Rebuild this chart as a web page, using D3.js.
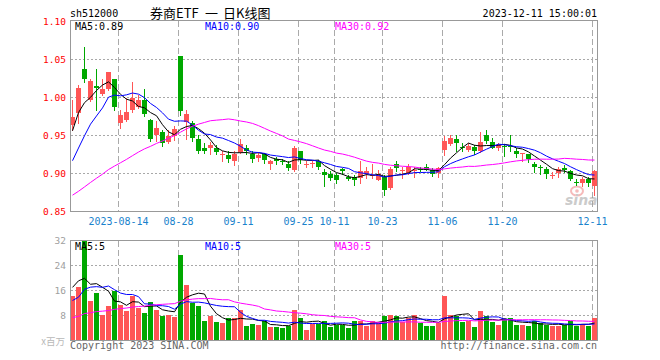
<!DOCTYPE html>
<html><head><meta charset="utf-8">
<script src="https://cdn.jsdelivr.net/npm/d3@7/dist/d3.min.js"></script>
<style>body{margin:0;background:#fff}svg{display:block}</style>
</head><body><svg id="c" width="660" height="360"></svg>
<script>
// ---------- data ----------
const tickIdx = [8, 18, 28, 38, 44, 52, 62, 72, 87];
const tickLabels = ["2023-08-14", "08-28", "09-11", "09-25", "10-11", "10-23", "11-06", "11-20", "12-11"];
const priceTicks = [1.10, 1.05, 1.00, 0.95, 0.90, 0.85];
const volTicks = [32, 24, 16, 8];
const maLabels = ["MA5:0.89", "MA10:0.90", "MA30:0.92"];
const volMaLabels = ["MA5:5", "MA10:5", "MA30:5"];
const titleParts = ["券商ETF", "一", "日K线图"];

const open = [0.964,0.979,1.037,0.997,1.015,1.005,1.011,1.024,0.966,0.971,0.983,0.988,0.997,0.971,0.951,0.954,0.941,0.950,1.054,0.968,
0.967,0.946,0.934,0.933,0.934,0.924,0.924,0.916,0.928,0.934,0.926,0.920,0.925,0.912,0.919,0.916,0.912,0.905,0.929,0.912,
0.912,0.916,0.902,0.899,0.898,0.906,0.896,0.895,0.894,0.899,0.897,0.892,0.896,0.881,0.913,0.904,0.901,0.904,0.906,0.909,
0.905,0.901,0.931,0.939,0.946,0.935,0.931,0.935,0.930,0.951,0.942,0.933,0.936,0.936,0.929,0.926,0.925,0.912,0.909,0.906,
0.897,0.901,0.907,0.903,0.889,0.887,0.893,0.883];
const high = [0.997,1.016,1.067,1.024,1.037,1.024,1.034,1.024,0.984,0.999,1.021,1.003,1.011,0.972,0.969,0.957,0.957,0.962,1.054,0.984,
0.969,0.951,0.940,0.941,0.937,0.929,0.929,0.929,0.945,0.938,0.929,0.927,0.927,0.918,0.922,0.919,0.916,0.936,0.930,0.916,
0.916,0.918,0.906,0.903,0.901,0.907,0.898,0.898,0.916,0.909,0.912,0.905,0.898,0.908,0.916,0.909,0.912,0.909,0.909,0.912,
0.907,0.909,0.949,0.951,0.951,0.940,0.940,0.938,0.955,0.957,0.947,0.940,0.939,0.951,0.933,0.927,0.926,0.915,0.911,0.908,
0.902,0.908,0.911,0.905,0.893,0.895,0.895,0.905];
const low = [0.957,0.966,1.021,0.995,0.984,1.003,1.010,0.984,0.960,0.969,0.981,0.986,0.976,0.943,0.943,0.936,0.940,0.944,0.977,0.946,
0.943,0.927,0.927,0.925,0.926,0.917,0.915,0.911,0.927,0.926,0.915,0.916,0.914,0.906,0.912,0.912,0.905,0.903,0.914,0.909,
0.909,0.906,0.884,0.892,0.888,0.899,0.891,0.885,0.888,0.894,0.894,0.891,0.872,0.879,0.903,0.894,0.899,0.895,0.903,0.904,
0.897,0.895,0.924,0.937,0.930,0.929,0.929,0.925,0.928,0.940,0.933,0.931,0.923,0.930,0.922,0.916,0.915,0.902,0.900,0.894,
0.894,0.896,0.902,0.891,0.885,0.883,0.884,0.872];
const close = [0.975,1.012,1.024,1.022,1.013,1.011,1.033,0.987,0.977,0.981,0.999,0.997,0.978,0.946,0.960,0.940,0.950,0.959,0.982,0.978,
0.947,0.929,0.929,0.938,0.928,0.925,0.919,0.926,0.939,0.929,0.919,0.924,0.918,0.916,0.917,0.915,0.907,0.934,0.918,0.913,
0.914,0.909,0.898,0.894,0.891,0.903,0.893,0.891,0.903,0.903,0.898,0.899,0.878,0.906,0.907,0.905,0.908,0.905,0.904,0.905,
0.899,0.907,0.943,0.947,0.940,0.934,0.936,0.929,0.942,0.943,0.934,0.938,0.935,0.935,0.926,0.927,0.919,0.908,0.908,0.899,
0.898,0.906,0.905,0.893,0.888,0.893,0.887,0.903];
const volume = [14.2,17.1,31.8,12.8,15.1,8.3,10.9,16.0,11.5,9.6,14.1,10.3,8.7,12.3,9.9,8.0,8.3,7.5,27.5,17.9,
11.9,10.9,6.2,8.0,5.9,5.5,7.1,7.1,9.9,4.8,5.3,5.0,6.2,4.3,4.3,4.1,4.8,9.9,7.1,3.4,
5.3,5.3,6.2,4.3,5.0,5.0,3.9,6.4,6.2,4.8,6.4,5.5,8.0,8.3,8.0,5.9,7.3,8.3,5.5,4.8,
4.8,5.5,14.2,8.3,8.0,5.9,6.4,4.3,9.4,7.7,5.9,5.1,6.9,7.1,5.1,5.1,4.5,6.2,5.5,5.1,
4.5,4.8,5.1,6.2,4.5,5.3,4.8,7.1];
// sessions before the first visible day, estimated from where the MA lines start
const priorClose = [0.858,0.852,0.846,0.845,0.850,0.853,0.849,0.846,0.848,0.852,0.855,0.851,0.847,0.845,0.843,0.846,0.848,0.850,0.847,0.845,
0.845,0.862,0.870,0.905,0.905,0.892,0.959,0.987,0.968];
const priorVolume = [4.2,5.1,4.8,3.9,4.4,5.0,4.6,4.1,4.3,4.9,5.2,4.5,4.0,4.7,4.4,4.6,4.8,4.3,4.5,4.7,
6.5,6.5,6.0,13.5,10.5,6.6,27.8,22.3,14.1];

// ---------- helpers ----------
function movingAvg(series, prior, n) {
  const all = prior.concat(series);
  return series.map((_, i) => d3.mean(all.slice(prior.length + i - n + 1, prior.length + i + 1)));
}
const MONO = "'DejaVu Sans Mono', 'Liberation Mono', monospace";
const UP = "#ff5656", DOWN = "#00a800";
const maColors = ["#000000", "#0000ff", "#ff00ff"];
const maPeriods = [5, 10, 30];

const svg = d3.select("#c");
const n = close.length;
const idx = d3.range(n);

const x = d3.scaleBand().domain(idx).range([70, 70 + 6 * n]).paddingInner(0);
const cx = i => x(i) + 2.5;
const y = d3.scaleLinear().domain([0.85, 1.10]).range([211.5, 21.5]);
const yv = d3.scaleLinear().domain([0, 32]).range([340.5, 240.5]);
const L = 70.5, R = 597.5;

// ---------- header ----------
svg.append("text").attr("x", 70).attr("y", 17).attr("font-family", MONO).attr("font-size", 10)
  .attr("fill", "#000").text("sh512000");
const title = svg.append("text").attr("y", 17.5).attr("font-family", "'Noto Sans CJK SC', sans-serif")
  .attr("font-size", 13).attr("fill", "#000");
[150, 205, 223].forEach((px, k) => title.append("tspan").attr("x", px).text(titleParts[k]));
svg.append("text").attr("x", 597).attr("y", 17).attr("text-anchor", "end").attr("font-family", MONO)
  .attr("font-size", 10).attr("fill", "#000").text("2023-12-11 15:00:01");

// ---------- grid helpers ----------
function panel(top, bottom, hLines) {
  const g = svg.append("g");
  g.selectAll(".h").data(hLines).enter().append("line")
    .attr("x1", L).attr("x2", R).attr("y1", d => d).attr("y2", d => d)
    .attr("stroke", "#a8a8a8").attr("stroke-dasharray", "2,2").attr("shape-rendering", "crispEdges");
  g.selectAll(".v").data(tickIdx).enter().append("line")
    .attr("x1", d => x(d) + 0.5).attr("x2", d => x(d) + 0.5).attr("y1", top).attr("y2", bottom)
    .attr("stroke", "#aaaaaa").attr("stroke-dasharray", "6,3").attr("shape-rendering", "crispEdges");
  return g;
}

// ---------- price panel ----------
panel(21, 211, priceTicks.slice(1, -1).map(y));
svg.selectAll(".pt").data(priceTicks).enter().append("text")
  .attr("x", 66).attr("y", d => y(d) + 3.5).attr("text-anchor", "end")
  .attr("font-family", MONO).attr("font-size", 9.5).attr("fill", "#ff0000").text(d => d.toFixed(2));
svg.selectAll(".xl").data(tickIdx).enter().append("text")
  .attr("x", d => x(d) + 0.5).attr("y", 225).attr("text-anchor", "middle")
  .attr("font-family", MONO).attr("font-size", 10).attr("fill", "#1a82cc")
  .text((d, i) => tickLabels[i]);

// sina watermark
const wm = svg.append("g").attr("opacity", 0.5);
wm.append("ellipse").attr("cx", 577).attr("cy", 191).attr("rx", 6).attr("ry", 4.5)
  .attr("fill", "none").attr("stroke", "#e77").attr("stroke-width", 2);
wm.append("circle").attr("cx", 577).attr("cy", 191).attr("r", 1.8).attr("fill", "#e77");
wm.append("text").attr("x", 565).attr("y", 205).attr("font-family", "'DejaVu Sans', sans-serif")
  .attr("font-size", 14).attr("font-weight", "bold").attr("font-style", "italic")
  .attr("fill", "#999").text("sina");

// candles
const cg = svg.append("g");
idx.forEach(i => {
  const up = close[i] >= open[i];
  const col = up ? UP : DOWN;
  cg.append("line").attr("x1", cx(i)).attr("x2", cx(i))
    .attr("y1", Math.round(y(high[i]))).attr("y2", Math.round(y(low[i])) + 1)
    .attr("stroke", col).attr("stroke-width", 1);
  const yt = Math.round(y(Math.max(open[i], close[i])));
  const yb = Math.round(y(Math.min(open[i], close[i])));
  cg.append("rect").attr("x", x(i)).attr("y", yt).attr("width", 5).attr("height", Math.max(1, yb - yt))
    .attr("fill", col);
});

// price MAs
maPeriods.forEach((p, k) => {
  const vals = movingAvg(close, priorClose, p);
  svg.append("path").datum(vals)
    .attr("d", d3.line().x((d, i) => cx(i)).y(d => y(d)))
    .attr("fill", "none").attr("stroke", maColors[k]).attr("stroke-width", 1);
});
[75, 205, 335].forEach((px, k) => {
  svg.append("text").attr("x", px).attr("y", 29.5).attr("font-family", MONO).attr("font-size", 10)
    .attr("fill", maColors[k]).text(maLabels[k]);
});
svg.append("rect").attr("x", L).attr("y", 20.5).attr("width", R - L).attr("height", 191)
  .attr("fill", "none").attr("stroke", "#999");

// ---------- volume panel ----------
panel(241, 340, volTicks.slice(1).map(yv));
svg.selectAll(".vt").data(volTicks).enter().append("text")
  .attr("x", 66).attr("y", d => yv(d) + 3.5).attr("text-anchor", "end")
  .attr("font-family", MONO).attr("font-size", 9.5).attr("fill", "#a0a0a0").text(d => d);
svg.append("text").attr("x", 65).attr("y", 345).attr("text-anchor", "end")
  .attr("font-family", "'Noto Sans CJK SC', sans-serif").attr("font-size", 9.5).attr("fill", "#b8b8b8")
  .text("x百万");
svg.append("g").selectAll("rect").data(idx).enter().append("rect")
  .attr("x", i => x(i)).attr("width", 5)
  .attr("y", i => Math.round(yv(Math.min(volume[i], 32)))).attr("height", i => 340 - Math.round(yv(Math.min(volume[i], 32))))
  .attr("fill", i => close[i] >= open[i] ? UP : DOWN);
maPeriods.forEach((p, k) => {
  const vals = movingAvg(volume, priorVolume, p);
  svg.append("path").datum(vals)
    .attr("d", d3.line().x((d, i) => cx(i)).y(d => yv(d)))
    .attr("fill", "none").attr("stroke", maColors[k]).attr("stroke-width", 1);
});
[75, 205, 335].forEach((px, k) => {
  svg.append("text").attr("x", px).attr("y", 250).attr("font-family", MONO).attr("font-size", 10)
    .attr("fill", maColors[k]).text(volMaLabels[k]);
});
svg.append("rect").attr("x", L).attr("y", 240.5).attr("width", R - L).attr("height", 100)
  .attr("fill", "none").attr("stroke", "#999");

// ---------- footer ----------
svg.append("text").attr("x", 70).attr("y", 349).attr("font-family", MONO).attr("font-size", 10)
  .attr("fill", "#666").text("Copyright 2023 SINA.COM");
svg.append("text").attr("x", 597).attr("y", 349).attr("text-anchor", "end").attr("font-family", MONO)
  .attr("font-size", 10).attr("fill", "#666").text("http://finance.sina.com.cn");
</script></body></html>
